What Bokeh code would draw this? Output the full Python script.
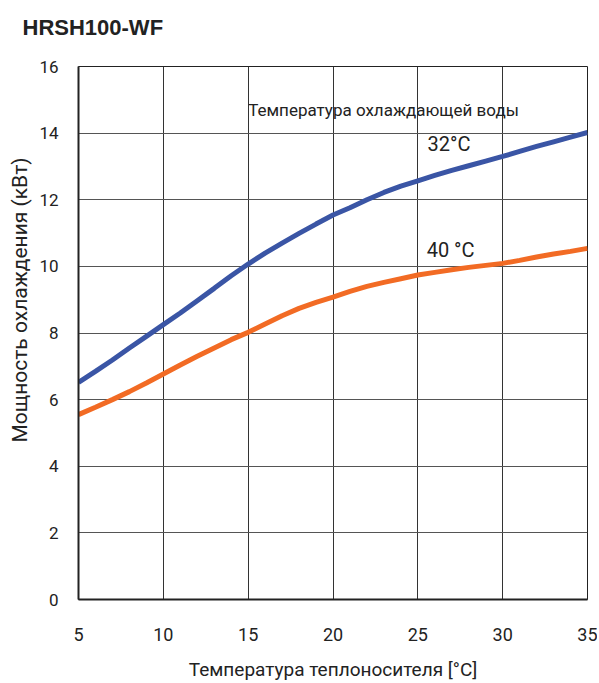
from bokeh.plotting import figure
from bokeh.models import Range1d, FixedTicker, Label, Title
from bokeh.embed import file_html
from bokeh.resources import INLINE

# Data
temp_heat_carrier = [5, 6, 7, 8, 9, 10, 11, 12, 13, 14, 15, 16, 17, 18, 19, 20,
                     21, 22, 23, 24, 25, 26, 27, 28, 29, 30, 31, 32, 33, 34, 35]
cap_32 = [6.52, 6.85, 7.19, 7.55, 7.90, 8.25, 8.60, 8.97, 9.34, 9.72, 10.07, 10.40,
          10.70, 10.99, 11.27, 11.54, 11.76, 12.00, 12.22, 12.41, 12.57, 12.73, 12.88,
          13.02, 13.16, 13.30, 13.45, 13.60, 13.74, 13.88, 14.02]
cap_40 = [5.55, 5.77, 6.00, 6.24, 6.50, 6.77, 7.04, 7.30, 7.55, 7.80, 8.02, 8.27,
          8.52, 8.74, 8.92, 9.08, 9.25, 9.40, 9.52, 9.63, 9.74, 9.82, 9.90, 9.97,
          10.03, 10.09, 10.18, 10.28, 10.37, 10.45, 10.54]
x_ticks = [5, 10, 15, 20, 25, 30, 35]
y_ticks = [0, 2, 4, 6, 8, 10, 12, 14, 16]

FONT = "Roboto"
TXT = "#222222"

p = figure(frame_width=509, frame_height=533,
           x_range=Range1d(5, 35), y_range=Range1d(0, 16),
           output_backend="svg", toolbar_location=None,
           min_border_left=78, min_border_right=10,
           min_border_top=66, min_border_bottom=4)

p.title = Title(text="HRSH100-WF", text_font="Liberation Sans", text_font_style="bold",
                text_font_size="22px", text_color=TXT, align="left", offset=-56,
                vertical_align="top", standoff=22,
                padding=dict(left=0, right=0, top=0, bottom=14))

p.outline_line_color = TXT
p.outline_line_width = 1

for ax in (p.xaxis[0], p.yaxis[0]):
    ax.major_tick_in = 0
    ax.major_tick_out = 0
    ax.minor_tick_in = 0
    ax.minor_tick_out = 0
    ax.axis_line_color = TXT
    ax.axis_line_width = 2
    ax.major_label_text_font = FONT
    ax.major_label_text_color = TXT

p.xaxis.ticker = FixedTicker(ticks=x_ticks)
p.yaxis.ticker = FixedTicker(ticks=y_ticks)
p.xaxis.major_label_text_font_size = "18px"
p.yaxis.major_label_text_font_size = "17px"
p.xaxis.major_label_standoff = 28
p.yaxis.major_label_standoff = 20

p.xaxis.axis_label = "Температура теплоносителя [°C]"
p.xaxis.axis_label_text_font = FONT
p.xaxis.axis_label_text_font_style = "normal"
p.xaxis.axis_label_text_font_size = "19px"
p.xaxis.axis_label_text_color = TXT
p.xaxis.axis_label_standoff = 14

p.add_layout(Title(text="Мощность охлаждения (кВт)", text_font=FONT,
                   text_font_style="normal", text_font_size="21px", text_color=TXT,
                   align="left", offset=157, standoff=10), "left")

p.xgrid.ticker = FixedTicker(ticks=x_ticks)
p.ygrid.ticker = FixedTicker(ticks=y_ticks)
p.xgrid.grid_line_color = "#333333"
p.ygrid.grid_line_color = "#555555"
p.xgrid.grid_line_width = 1
p.ygrid.grid_line_width = 1

p.line(temp_heat_carrier, cap_32, line_color="#3a55a5", line_width=5)
p.line(temp_heat_carrier, cap_40, line_color="#f26b24", line_width=5)

p.add_layout(Label(x=15.0, y=14.68, text="Температура охлаждающей воды",
                   text_font=FONT, text_font_size="17px", text_color=TXT,
                   text_align="left", text_baseline="middle"))
p.add_layout(Label(x=25.57, y=13.68, text="32°C",
                   text_font=FONT, text_font_size="20px", text_color=TXT,
                   text_align="left", text_baseline="middle"))
p.add_layout(Label(x=25.52, y=10.48, text="40 °C",
                   text_font=FONT, text_font_size="20px", text_color=TXT,
                   text_align="left", text_baseline="middle"))

open("out.html", "w").write(file_html(p, INLINE))
